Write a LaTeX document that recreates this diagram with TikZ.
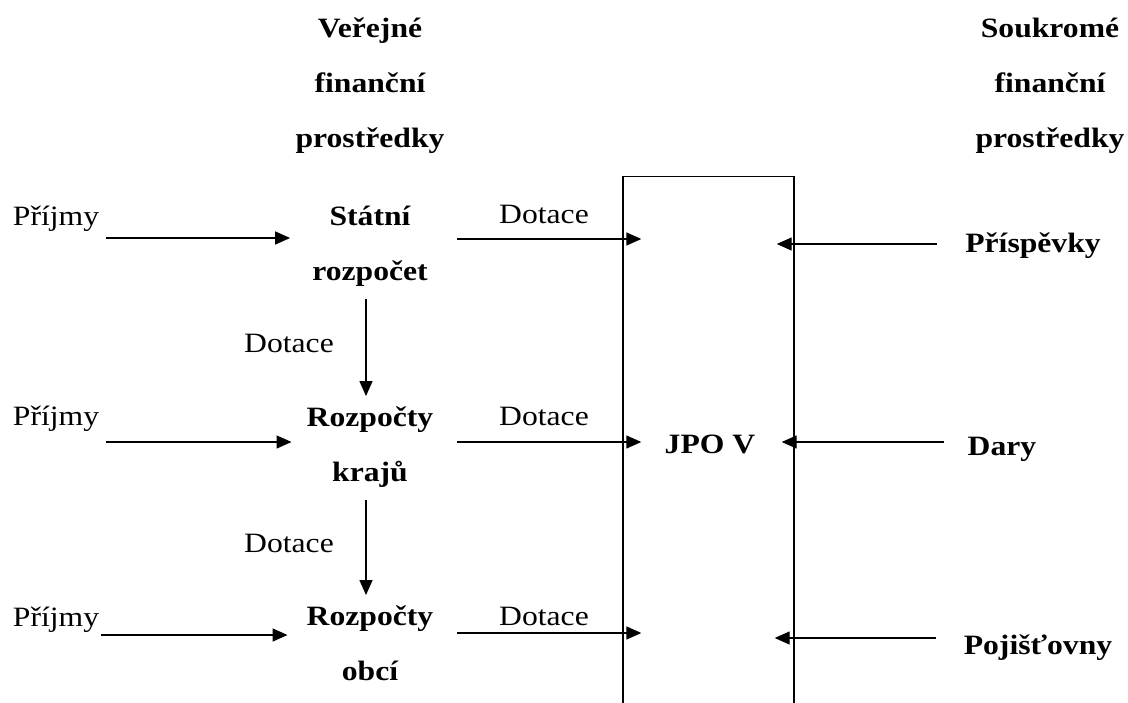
\documentclass[tikz,border=0pt]{standalone}
\usepackage{fontspec}
\setmainfont{Liberation Serif}[FakeStretch=1.13]
\usepackage{xcolor}
\usepackage{tikz}
\usetikzlibrary{arrows.meta}
\definecolor{inkblack}{RGB}{0, 0, 0}

\tikzset{
    txt/.style={font=\fontsize{28}{55}\selectfont, text=inkblack, inner sep=0pt, anchor=base},
    hd/.style={txt, font=\fontsize{28}{55}\selectfont\bfseries, align=center},
    flow/.style={draw=inkblack, line width=1.4pt, -{Triangle[length=15pt,width=13pt]}}
}

\begin{document}
\begin{tikzpicture}[x=1pt,y=-1pt]
        \useasboundingbox (0,0) rectangle (1128,702);

        % column headings
        \node[hd] (pub) at (370,147) {Veřejné\\finanční\\prostředky};
        \node[hd] (priv) at (1050,147) {Soukromé\\finanční\\prostředky};

        % public budgets
        \node[txt] (inc1) at (56,225) {Příjmy};
        \node[txt] (inc2) at (56,425) {Příjmy};
        \node[txt] (inc3) at (56,626) {Příjmy};
        \node[hd] (state) at (370,280) {Státní\\rozpočet};
        \node[hd] (region) at (370,481) {Rozpočty\\krajů};
        \node[hd] (town) at (370,680) {Rozpočty\\obcí};
        \node[txt] (sub1) at (544,223) {Dotace};
        \node[txt] (sub2) at (544,425) {Dotace};
        \node[txt] (sub3) at (544,625) {Dotace};
        \node[txt] (down1) at (289,352) {Dotace};
        \node[txt] (down2) at (289,552) {Dotace};

        % the unit
        \node[draw=inkblack, line width=1.4pt, minimum width=171pt, minimum height=560pt, inner sep=0pt, anchor=north] (box) at (708.5,176) {};
        \node[hd] (jpo) at (710,453) {JPO V};

        % private sources
        \node[hd] (contrib) at (1033,252) {Příspěvky};
        \node[hd] (gift) at (1002,455) {Dary};
        \node[hd] (insur) at (1038,654) {Pojišťovny};

        % incomes
        \draw[flow] ([xshift=7pt,yshift=-13pt]inc1.base east) -- ([xshift=-22pt,yshift=-13pt]inc1.base east -| state.west);
        \draw[flow] ([xshift=7pt,yshift=-17pt]inc2.base east) -- ([xshift=-15pt,yshift=-17pt]inc2.base east -| region.west);
        \draw[flow] ([xshift=2pt,yshift=-9pt]inc3.base east) -- ([xshift=-19pt,yshift=-9pt]inc3.base east -| town.west);

        % grants
        \draw[flow] ([xshift=29pt,yshift=-16pt]sub1.base -| state.east) -- ([xshift=19pt,yshift=-16pt]sub1.base -| box.west);
        \draw[flow] ([xshift=24pt,yshift=-17pt]sub2.base -| region.east) -- ([xshift=19pt,yshift=-17pt]sub2.base -| box.west);
        \draw[flow] ([xshift=24pt,yshift=-8pt]sub3.base -| town.east) -- ([xshift=19pt,yshift=-8pt]sub3.base -| box.west);
        \draw[flow] ([xshift=-4pt,yshift=-13pt]state.south) -- ([xshift=-4pt,yshift=10pt]region.north);
        \draw[flow] ([xshift=-4pt,yshift=-13pt]region.south) -- ([xshift=-4pt,yshift=10pt]town.north);

        % gifts and insurance
        \draw[flow] ([xshift=-28pt,yshift=8pt]contrib.base west) -- ([xshift=-18pt,yshift=8pt]contrib.base west -| box.east);
        \draw[flow] ([xshift=-24pt,yshift=13pt]gift.base west) -- ([xshift=-13pt,yshift=13pt]gift.base west -| box.east);
        \draw[flow] ([xshift=-28pt,yshift=16pt]insur.base west) -- ([xshift=-20pt,yshift=16pt]insur.base west -| box.east);
\end{tikzpicture}
\end{document}
